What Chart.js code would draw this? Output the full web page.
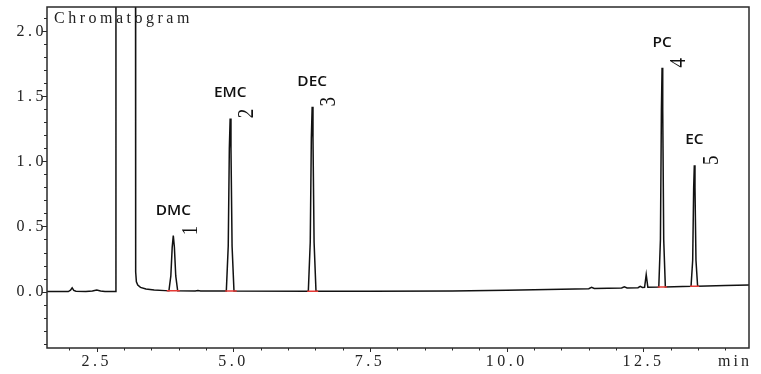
<!DOCTYPE html>
<html><head><meta charset="utf-8">
<script src="https://cdn.jsdelivr.net/npm/chart.js@4.4.1/dist/chart.umd.min.js"></script>
<style>html,body{margin:0;padding:0;background:#fff;}#wrap{width:761px;height:374px;}</style>
</head><body><div id="wrap"><canvas id="c" width="761" height="374"></canvas></div>
<script>
// ---- data ----
const chartTitle = 'Chromatogram';
const xUnitLabel = 'min';
const traceTimes = [
  1.59, 1.98, 2.02, 2.05, 2.08, 2.12, 2.30, 2.42, 2.50, 2.57, 2.65, 2.85,
  2.851, 3.209, 3.212, 3.225, 3.25, 3.30, 3.40, 3.55, 3.75,
  3.82, 3.855, 3.88, 3.90, 3.92, 3.945, 3.98,
  4.30, 4.35, 4.40,
  4.87, 4.905, 4.925, 4.94, 4.955, 4.975, 5.01,
  6.37, 6.405, 6.425, 6.44, 6.455, 6.475, 6.51,
  7.50, 9.00, 10.0, 11.0, 11.5, 11.55, 11.6, 12.1, 12.15, 12.2, 12.4, 12.44, 12.48, 12.52, 12.55, 12.58,
  12.78, 12.81, 12.828, 12.84, 12.852, 12.87, 12.90,
  13.37, 13.40, 13.418, 13.43, 13.442, 13.46, 13.49,
  14.0, 14.43
];
const traceSignal = [
  0.000, 0.000, 0.010, 0.028, 0.008, 0.002, 0.000, 0.004, 0.012, 0.004, 0.001, 0.000,
  2.600, 2.600, 0.150, 0.075, 0.050, 0.032, 0.020, 0.012, 0.007,
  0.006, 0.120, 0.340, 0.430, 0.340, 0.120, 0.006,
  0.004, 0.007, 0.004,
  0.004, 0.350, 1.100, 1.330, 1.100, 0.350, 0.004,
  0.003, 0.380, 1.180, 1.420, 1.180, 0.380, 0.003,
  0.003, 0.004, 0.009, 0.018, 0.022, 0.032, 0.023, 0.027, 0.036, 0.028, 0.030, 0.040, 0.031, 0.032, 0.130, 0.033,
  0.034, 0.400, 1.400, 1.720, 1.400, 0.400, 0.035,
  0.040, 0.240, 0.800, 0.970, 0.800, 0.240, 0.041,
  0.046, 0.050
];
const peakNames = ['DMC', 'EMC', 'DEC', 'PC', 'EC'];
const peakNumbers = ['1', '2', '3', '4', '5'];
const peakTimes = [3.90, 4.94, 6.44, 12.84, 13.43];
const peakHeights = [0.43, 1.33, 1.42, 1.72, 0.97];
const markStarts = [3.78, 4.85, 6.35, 12.76, 13.35];
const markEnds = [4.02, 5.06, 6.55, 12.93, 13.52];
const markLevels = [0.006, 0.004, 0.003, 0.034, 0.040];
const xTickValues = [2.5, 5.0, 7.5, 10.0, 12.5];
const xTickLabels = ['2.5', '5.0', '7.5', '10.0', '12.5'];
const yTickValues = [0.0, 0.5, 1.0, 1.5, 2.0];
const yTickLabels = ['0.0', '0.5', '1.0', '1.5', '2.0'];

// ---- build datasets ----
const traceData = traceTimes.map((t, i) => ({x: t, y: traceSignal[i]}));
const markData = [];
markStarts.forEach((s, i) => {
  markData.push({x: s, y: markLevels[i]}, {x: markEnds[i], y: markLevels[i]}, {x: markEnds[i], y: null});
});

const serif = '"Liberation Serif", "Times New Roman", serif';

const deco = {
  id: 'deco',
  beforeDraw(chart) { chart.ctx.letterSpacing = '3.5px'; },
  beforeDatasetsDraw(chart) { chart.ctx.letterSpacing = '0px'; },
  afterDraw(chart) {
    const {ctx, chartArea: a, scales: {x, y}} = chart;
    ctx.save();
    ctx.letterSpacing = '0px';
    ctx.strokeStyle = '#2a2a2a';
    ctx.lineWidth = 1.5;
    ctx.strokeRect(a.left, a.top, a.right - a.left, a.bottom - a.top);
    ctx.lineWidth = 1;
    // y ticks (every 0.1, major every 0.5)
    for (let i = -4; i <= 21; i++) {
      const py = Math.round(y.getPixelForValue(i / 10)) + 0.5;
      const major = i % 5 === 0;
      ctx.beginPath();
      ctx.moveTo(a.left - (major ? 5 : 3), py);
      ctx.lineTo(a.left, py);
      ctx.stroke();
    }
    // x ticks (every 0.5)
    for (let i = 4; i <= 28; i++) {
      const px = Math.round(x.getPixelForValue(i / 2)) + 0.5;
      const major = i % 5 === 0;
      ctx.beginPath();
      ctx.moveTo(px, a.bottom);
      ctx.lineTo(px, a.bottom + (major ? 4 : 2.5));
      ctx.stroke();
    }
    // title text
    ctx.fillStyle = '#222';
    ctx.font = '16px ' + serif;
    ctx.letterSpacing = '3.5px';
    ctx.textAlign = 'left';
    ctx.textBaseline = 'alphabetic';
    ctx.fillText(chartTitle, 54, 23);
    // unit
    ctx.font = '16px ' + serif;
    ctx.letterSpacing = '3px';
    ctx.fillText(xUnitLabel, 718, 366);
    ctx.letterSpacing = '0px';
    // peak labels
    peakNames.forEach((name, i) => {
      const px = x.getPixelForValue(peakTimes[i]);
      const py = y.getPixelForValue(peakHeights[i]);
      ctx.save();
      ctx.translate(px, py - 25);
      ctx.scale(1.1, 1);
      ctx.fillStyle = '#111';
      ctx.font = '600 14px "Open Sans", sans-serif';
      ctx.textAlign = 'center';
      ctx.textBaseline = 'middle';
      ctx.fillText(name, 0, 0);
      ctx.restore();
      ctx.save();
      ctx.translate(px + 17, py - 5);
      ctx.scale(1.25, 1);
      ctx.rotate(-Math.PI / 2);
      ctx.fillStyle = '#111';
      ctx.font = '19px ' + serif;
      ctx.textAlign = 'center';
      ctx.textBaseline = 'middle';
      ctx.fillText(peakNumbers[i], 0, 0);
      ctx.restore();
    });
    ctx.restore();
  }
};

new Chart(document.getElementById('c'), {
  type: 'line',
  data: {
    datasets: [
      {data: markData, borderColor: '#e53935', borderWidth: 1.5, pointRadius: 0, tension: 0, spanGaps: false, order: 0},
      {data: traceData, borderColor: '#111', borderWidth: 1.5, pointRadius: 0, tension: 0, order: 1}
    ]
  },
  options: {
    responsive: false,
    animation: false,
    devicePixelRatio: 1,
    layout: {padding: {top: 7, right: 12, left: 0, bottom: 0}},
    plugins: {legend: {display: false}, tooltip: {enabled: false}},
    scales: {
      x: {
        type: 'linear', min: 1.59, max: 14.43,
        grid: {display: false, drawTicks: false},
        border: {display: false},
        afterBuildTicks: s => { s.ticks = xTickValues.map(v => ({value: v})); },
        afterFit: s => { s.height = 26; s.paddingLeft = 0; s.paddingRight = 0; },
        ticks: {font: {family: serif, size: 16}, color: '#222', padding: 4, maxRotation: 0, autoSkip: false,
                callback: (v, i) => xTickLabels[i]}
      },
      y: {
        type: 'linear', min: -0.434, max: 2.187,
        grid: {display: false, drawTicks: false},
        border: {display: false},
        afterBuildTicks: s => { s.ticks = yTickValues.map(v => ({value: v})); },
        afterFit: s => { s.width = 47; s.paddingTop = 0; s.paddingBottom = 0; },
        ticks: {font: {family: serif, size: 16}, color: '#222', padding: 0, autoSkip: false,
                callback: (v, i) => yTickLabels[i]}
      }
    }
  },
  plugins: [deco]
});
</script></body></html>
